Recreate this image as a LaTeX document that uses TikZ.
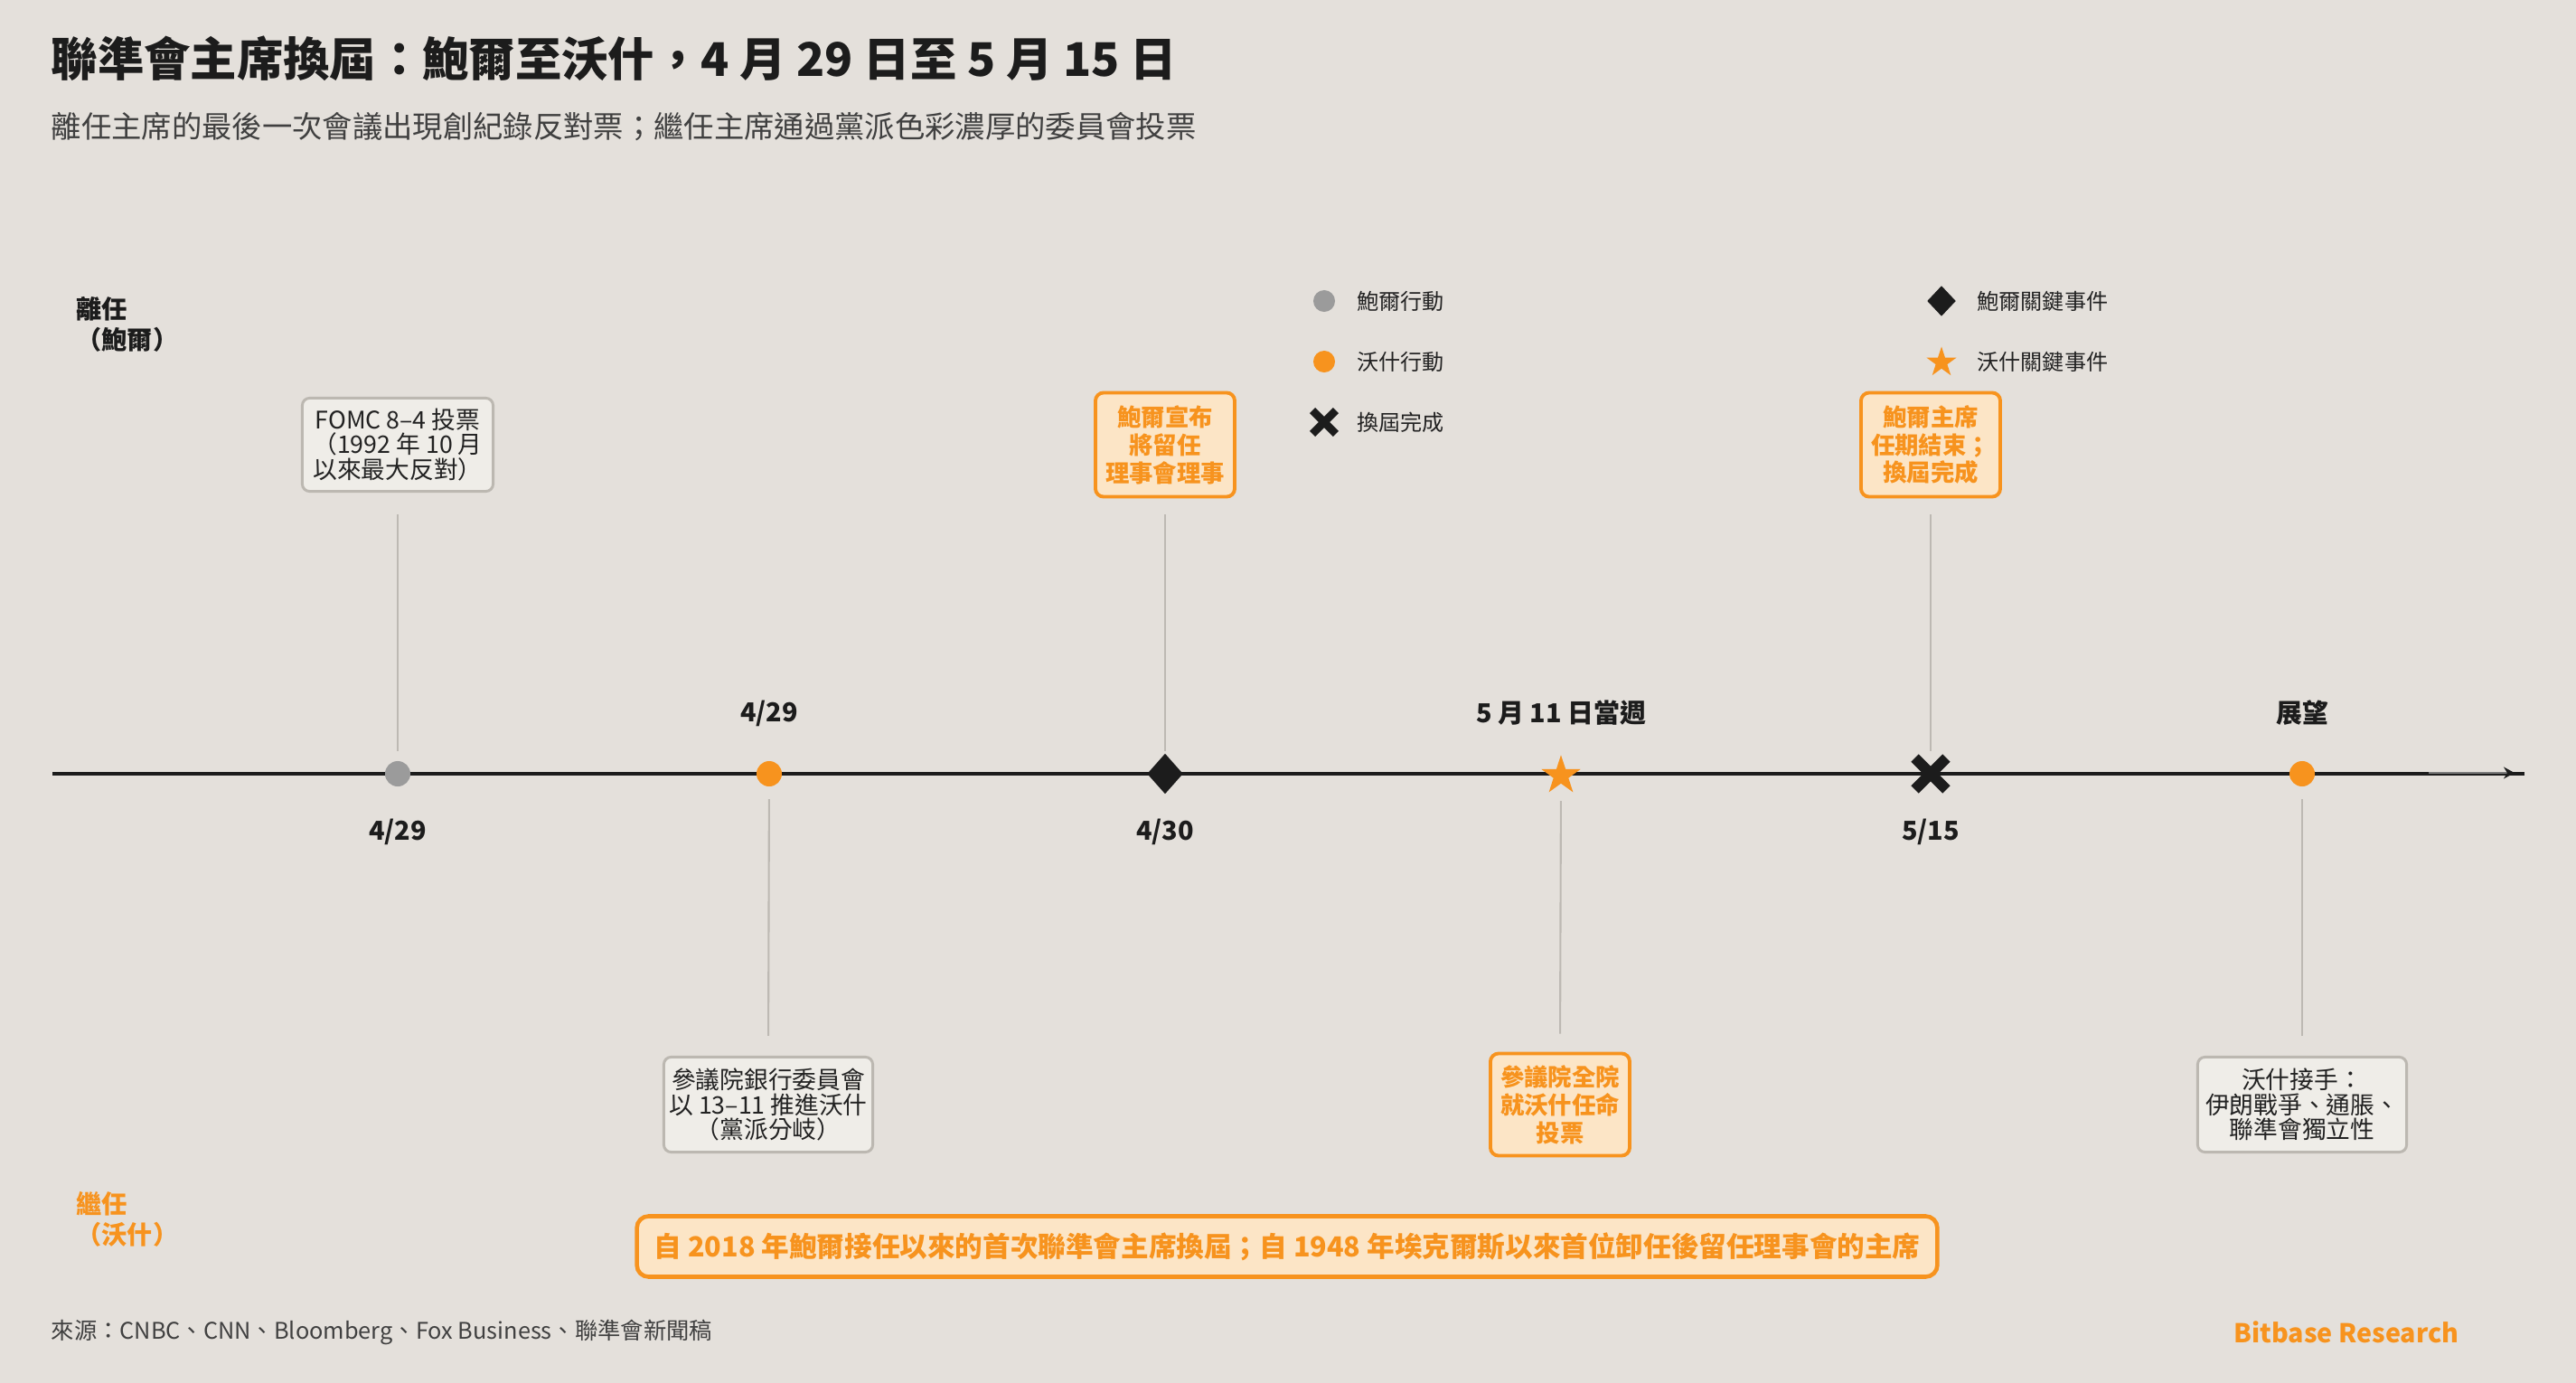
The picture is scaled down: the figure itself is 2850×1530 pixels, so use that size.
\documentclass[tikz,border=0pt]{standalone}
\usepackage{fontspec}
\setmainfont{Noto Sans CJK TC}
\usetikzlibrary{shapes.geometric,shapes.misc,arrows.meta}
\definecolor{bg}{HTML}{E4E0DB}
\definecolor{org}{HTML}{F7931E}
\definecolor{ofill}{HTML}{FCE5C6}
\definecolor{gfill}{HTML}{EFEDE8}
\definecolor{gborder}{HTML}{BCB8B1}
\definecolor{conn}{HTML}{BDB9B3}
\definecolor{gdot}{HTML}{9B9B9B}
\definecolor{dark}{HTML}{1C1C1C}
\definecolor{txt}{HTML}{222222}
\definecolor{sub}{HTML}{404040}
\newcommand\myfs[2]{\fontsize{#1}{#2}\selectfont}
\begin{document}
\begin{tikzpicture}[x=0.01cm,y=-0.01cm,
  graybox/.style={draw=gborder, line width=0.85pt, fill=gfill, rounded corners=0.08cm, align=center, inner sep=0pt, font=\myfs{7.6pt}{7.9pt}, text=txt},
  orangebox/.style={draw=org, line width=1.1pt, fill=ofill, rounded corners=0.09cm, align=center, inner sep=0pt, font=\myfs{7.5pt}{8.8pt}\bfseries, text=org},
  datelbl/.style={font=\myfs{8.2pt}{9pt}\bfseries, text=dark},
  leglbl/.style={anchor=west, font=\myfs{6.85pt}{8pt}, text=txt, inner sep=0pt},
  dotg/.style={circle, fill=gdot, minimum size=0.28cm, inner sep=0pt},
  doto/.style={circle, fill=org, minimum size=0.28cm, inner sep=0pt},
  diam/.style={diamond, fill=dark, minimum width=0.40cm, minimum height=0.45cm, inner sep=0pt},
  ostar/.style={star, star points=5, star point ratio=2.6, fill=org, minimum size=0.454cm, inner sep=0pt},
  xmark/.style={cross out, draw=dark, line width=3.4pt, minimum size=0.23cm, inner sep=0pt},
  connline/.style={draw=conn, line width=0.6pt},
  timeline/.style={draw=dark, line width=1.4pt}
]
\fill[bg] (0,0) rectangle (2850,1530);
\useasboundingbox (0,0) rectangle (2850,1530);

% title and subtitle
\node[anchor=west, inner sep=0pt, font=\myfs{14.6pt}{16pt}\bfseries, text=dark] (title) at (56,65)
  {聯準會主席換屆：鮑爾至沃什，4 月 29 日至 5 月 15 日};
\node[anchor=west, inner sep=0pt, font=\myfs{9.48pt}{11pt}, text=sub] (subtitle) at (56,140)
  {離任主席的最後一次會議出現創紀錄反對票；繼任主席通過黨派色彩濃厚的委員會投票};

% side labels
\node[anchor=west, align=left, inner sep=0pt, font=\myfs{8pt}{9.8pt}\bfseries, text=dark] (lblout) at (84,359)
  {離任\\（鮑爾）};
\node[anchor=west, align=left, inner sep=0pt, font=\myfs{8pt}{9.8pt}\bfseries, text=org] (lblin) at (84,1349)
  {繼任\\（沃什）};

% legend
\node[circle, fill=gdot, minimum size=0.24cm, inner sep=0pt] (lg1) at (1465,333) {};
\node[leglbl] (lg1t) at (1501,333) {鮑爾行動};
\node[circle, fill=org, minimum size=0.24cm, inner sep=0pt] (lg2) at (1465,400) {};
\node[leglbl] (lg2t) at (1501,400) {沃什行動};
\node[cross out, draw=dark, line width=2.5pt, minimum size=0.17cm, inner sep=0pt] (lg3) at (1465,467) {};
\node[leglbl] (lg3t) at (1501,467) {換屆完成};
\node[diamond, fill=dark, minimum width=0.32cm, minimum height=0.34cm, inner sep=0pt] (lg4) at (2148,333) {};
\node[leglbl] (lg4t) at (2187,333) {鮑爾關鍵事件};
\node[star, star points=5, star point ratio=2.6, fill=org, minimum size=0.35cm, inner sep=0pt] (lg5) at (2148,401) {};
\node[leglbl] (lg5t) at (2187,400) {沃什關鍵事件};

% timeline
\coordinate (tl0) at (58,856);
\coordinate (tl1) at (2793,856);
\draw[timeline] (tl0) -- (tl1);
\coordinate (ta0) at (2687,855);
\coordinate (ta1) at (2782,855);
\draw[draw=gdot!80!black, line width=0.3pt, -{Stealth[length=0.12cm, width=0.13cm, color=dark]}] (ta0) -- (ta1);

% markers
\node[dotg] (m1) at (440,856) {};
\node[doto] (m2) at (851,856) {};
\node[diam] (m3) at (1289,856) {};
\node[ostar] (m4) at (1727,858) {};
\node[xmark] (m5) at (2136,856) {};
\node[doto] (m6) at (2547,856) {};

% date labels
\node[datelbl] (d1) at (440,920) {4/29};
\node[datelbl] (d2) at (851,789) {4/29};
\node[datelbl] (d3) at (1289,920) {4/30};
\node[datelbl] (d4) at (1727,789) {5 月 11 日當週};
\node[datelbl] (d5) at (2136,920) {5/15};
\node[datelbl] (d6) at (2547,789) {展望};

% boxes above
\node[graybox, minimum width=2.11cm, minimum height=1.03cm] (b1) at (440,492)
  {FOMC 8–4 投票\\（1992 年 10 月\\以來最大反對）};
\node[orangebox, minimum width=1.54cm, minimum height=1.15cm] (b2) at (1289,492)
  {鮑爾宣布\\將留任\\理事會理事};
\node[orangebox, minimum width=1.54cm, minimum height=1.15cm] (b3) at (2136,492)
  {鮑爾主席\\任期結束；\\換屆完成};

% boxes below
\node[graybox, minimum width=2.31cm, minimum height=1.05cm] (b4) at (850,1222)
  {參議院銀行委員會\\以 13–11 推進沃什\\（黨派分岐）};
\node[orangebox, minimum width=1.54cm, minimum height=1.13cm] (b5) at (1726,1222)
  {參議院全院\\就沃什任命\\投票};
\node[graybox, minimum width=2.31cm, minimum height=1.05cm] (b6) at (2547,1222)
  {沃什接手：\\伊朗戰爭、通脹、\\聯準會獨立性};

% connectors
\draw[connline, shorten <=0.24cm, shorten >=0.25cm] (b1.south) -- (m1.center);
\draw[connline, shorten <=0.18cm, shorten >=0.25cm] (b2.south) -- (m3.center);
\draw[connline, shorten <=0.18cm, shorten >=0.25cm] (b3.south) -- (m5.center);
\draw[connline, shorten <=0.28cm, shorten >=0.22cm] (m2.center) -- (b4.north);
\draw[connline, shorten <=0.28cm, shorten >=0.20cm] (m4.center) -- (b5.north);
\draw[connline, shorten <=0.28cm, shorten >=0.22cm] (m6.center) -- (b6.north);

% banner
\node[draw=org, line width=1.3pt, fill=ofill, rounded corners=0.13cm, minimum width=14.38cm, minimum height=0.67cm, inner sep=0pt, font=\myfs{8.7pt}{10pt}\bfseries, text=org] (banner) at (1424,1379)
  {自 2018 年鮑爾接任以來的首次聯準會主席換屆；自 1948 年埃克爾斯以來首位卸任後留任理事會的主席};

% footer
\node[anchor=west, inner sep=0pt, font=\myfs{7.2pt}{8pt}, text=sub] (source) at (56,1474)
  {來源：CNBC、CNN、Bloomberg、Fox Business、聯準會新聞稿};
\node[anchor=east, inner sep=0pt, font=\myfs{8.15pt}{9pt}\bfseries, text=org] (brand) at (2721,1474)
  {Bitbase Research};
\end{tikzpicture}
\end{document}
